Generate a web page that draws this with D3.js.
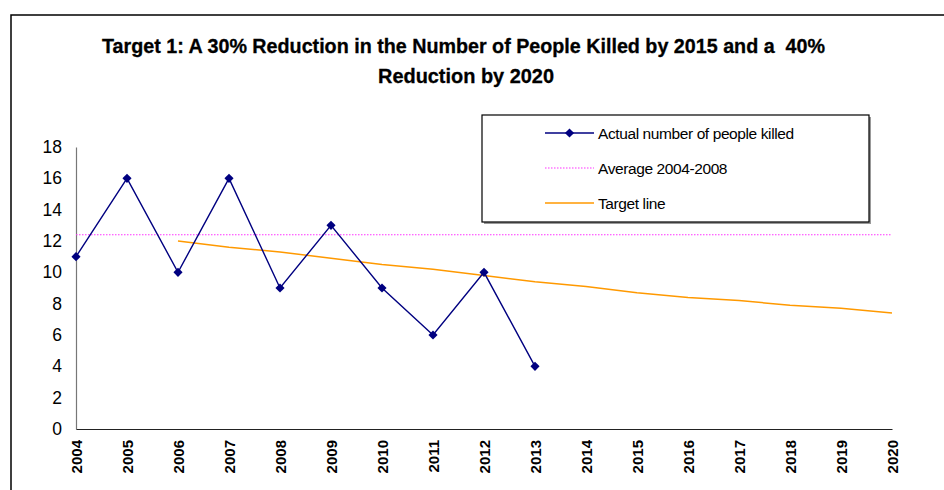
<!DOCTYPE html>
<html>
<head>
<meta charset="utf-8">
<script src="https://cdn.jsdelivr.net/npm/d3@7"></script>
<style>
  body { margin: 0; background: #fff; }
  svg { display: block; font-family: Arial, "Liberation Sans", sans-serif; }
  .title { white-space: pre; }
</style>
</head>
<body>
<div class="chart"></div>
<script>
// DATA ------------------------------------
const years = ["2004","2005","2006","2007","2008","2009","2010","2011","2012","2013",
               "2014","2015","2016","2017","2018","2019","2020"];
const actualYears = ["2004","2005","2006","2007","2008","2009","2010","2011","2012","2013"];
const actualKilled = [11, 16, 10, 16, 9, 13, 9, 6, 10, 4];
const averageValue = 12.4;   // average 2004-2008
const targetYears = ["2006","2007","2008","2009","2010","2011","2012","2013",
                     "2014","2015","2016","2017","2018","2019","2020"];
const targetValues = [12.0, 11.6, 11.3, 10.9, 10.5, 10.2, 9.8, 9.4,
                      9.1, 8.7, 8.4, 8.2, 7.9, 7.7, 7.4];
const yTicks = [0, 2, 4, 6, 8, 10, 12, 14, 16, 18];
const titleLines = ["Target 1: A 30% Reduction in the Number of People Killed by 2015 and a  40%",
                    "Reduction by 2020"];
const legendLabels = ["Actual number of people killed", "Average 2004-2008", "Target line"];

// CHART INIT ------------------------------
const W = 944, H = 490;
const svg = d3.select(".chart").append("svg")
    .attr("width", W)
    .attr("height", H);

// outer frame (only top and left edges are visible)
svg.append("path")
    .attr("d", "M11,490 L11,15 L944,15")
    .attr("fill", "none")
    .attr("stroke", "#000")
    .attr("stroke-width", 1.5);

const xScale = d3.scalePoint()
    .domain(years)
    .range([76, 892]);

const yScale = d3.scaleLinear()
    .domain([0, 18])
    .range([429, 147]);

// title
svg.append("text")
    .attr("class", "title")
    .attr("x", 463.5).attr("y", 53)
    .attr("text-anchor", "middle")
    .attr("font-size", 20).attr("font-weight", "bold")
    .attr("stroke", "#000").attr("stroke-width", 0.3)
    .attr("textLength", 723).attr("lengthAdjust", "spacingAndGlyphs")
    .text(titleLines[0]);
svg.append("text")
    .attr("class", "title")
    .attr("x", 466).attr("y", 83)
    .attr("text-anchor", "middle")
    .attr("font-size", 20).attr("font-weight", "bold")
    .attr("stroke", "#000").attr("stroke-width", 0.3)
    .attr("textLength", 176).attr("lengthAdjust", "spacingAndGlyphs")
    .text(titleLines[1]);

// axes
const yAxis = svg.append("g")
    .attr("transform", "translate(76,0)")
    .call(d3.axisLeft(yScale).tickValues(yTicks).tickSize(0).tickPadding(14).tickSizeOuter(0));
yAxis.select(".domain").attr("stroke", "#777").attr("stroke-width", 1.2);
yAxis.selectAll("text")
    .attr("font-size", 17.5)
    .attr("font-family", "Arial, 'Liberation Sans', sans-serif")
    .attr("fill", "#000");

const xAxis = svg.append("g")
    .attr("transform", "translate(0,429)")
    .call(d3.axisBottom(xScale).tickSize(0).tickSizeOuter(0));
xAxis.select(".domain").attr("stroke", "#222").attr("stroke-width", 1.2);
xAxis.selectAll("text")
    .attr("font-size", 15)
    .attr("font-weight", "bold")
    .attr("font-family", "Arial, 'Liberation Sans', sans-serif")
    .attr("fill", "#000")
    .attr("text-anchor", "end")
    .attr("transform", "rotate(-90)")
    .attr("x", -11)
    .attr("y", 0)
    .attr("dy", "0.36em");

// average line
svg.append("line")
    .attr("x1", xScale(years[0]))
    .attr("x2", xScale(years[years.length - 1]))
    .attr("y1", yScale(averageValue))
    .attr("y2", yScale(averageValue))
    .attr("stroke", "#ff33ff")
    .attr("stroke-width", 1.2)
    .attr("stroke-dasharray", "1.5,1.5");

// target line
const line = d3.line()
    .x(d => xScale(d[0]))
    .y(d => yScale(d[1]));

svg.append("path")
    .datum(d3.zip(targetYears, targetValues))
    .attr("fill", "none")
    .attr("stroke", "#ff9900")
    .attr("stroke-width", 1.5)
    .attr("d", line);

// actual series
const actual = d3.zip(actualYears, actualKilled);
svg.append("path")
    .datum(actual)
    .attr("fill", "none")
    .attr("stroke", "#000080")
    .attr("stroke-width", 1.4)
    .attr("d", line);

const diamond = d3.symbol().type(d3.symbolSquare).size(42);
svg.selectAll(".marker")
    .data(actual)
    .enter().append("path")
    .attr("class", "marker")
    .attr("fill", "#000080")
    .attr("d", diamond)
    .attr("transform", d => "translate(" + xScale(d[0]) + "," + yScale(d[1]) + ") rotate(45)");

// legend
const lg = svg.append("g");
lg.append("rect")
    .attr("x", 484).attr("y", 117).attr("width", 387).attr("height", 107)
    .attr("fill", "#999");
lg.append("rect")
    .attr("x", 482).attr("y", 115).attr("width", 387).attr("height", 107)
    .attr("fill", "#fff").attr("stroke", "#000").attr("stroke-width", 1.2);

const rowY = [133, 168, 203];
legendLabels.forEach(function(lab, i) {
    const ly = rowY[i];
    const l = lg.append("line")
        .attr("x1", 545).attr("x2", 594)
        .attr("y1", ly).attr("y2", ly);
    if (i == 0) {
        l.attr("stroke", "#000080").attr("stroke-width", 1.4);
        lg.append("path")
            .attr("fill", "#000080")
            .attr("d", diamond)
            .attr("transform", "translate(569.5," + ly + ") rotate(45)");
    } else if (i == 1) {
        l.attr("stroke", "#ff33ff").attr("stroke-width", 1.2).attr("stroke-dasharray", "1.5,1.5");
    } else {
        l.attr("stroke", "#ff9900").attr("stroke-width", 1.5);
    }
    lg.append("text")
        .attr("x", 598).attr("y", ly + 5.5)
        .attr("font-size", 15.5)
        .attr("letter-spacing", -0.4)
        .text(lab);
});
</script>
</body>
</html>
